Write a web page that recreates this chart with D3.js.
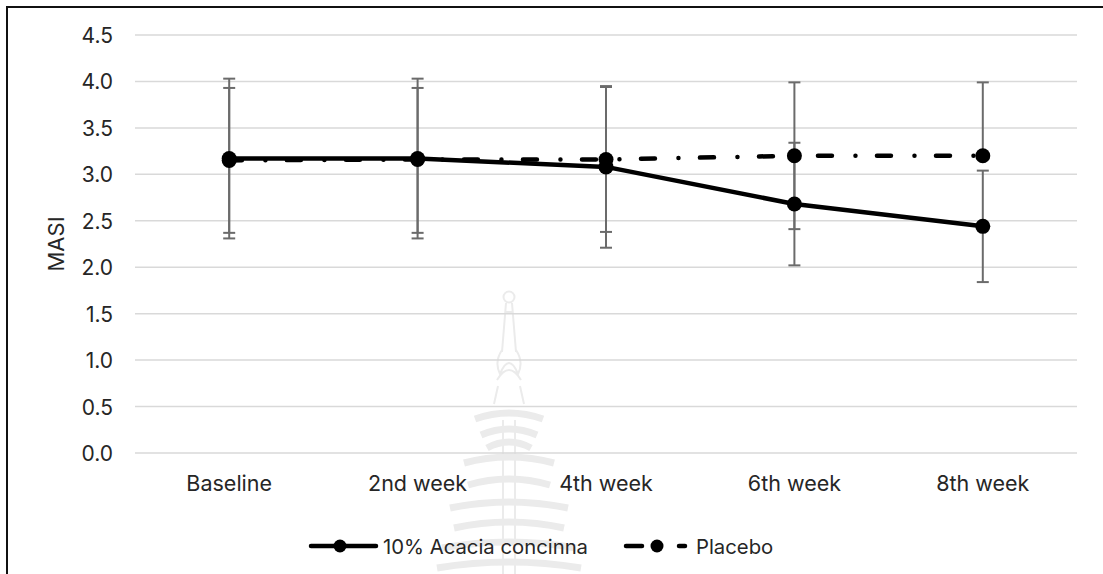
<!DOCTYPE html>
<html>
<head>
<meta charset="utf-8">
<script src="https://cdn.jsdelivr.net/npm/d3@7"></script>
<style>
    body { margin: 0; background: #fff; }
    svg { display: block; }
    text { font-family: Inter, "Open Sans", sans-serif; fill: #262626; }
</style>
</head>
<body>
<svg id="chart" width="1103" height="574"></svg>
<script>
// chart data
const weeks = ['Baseline', '2nd week', '4th week', '6th week', '8th week'];
const acaciaMean = [3.17, 3.17, 3.08, 2.68, 2.44];
const acaciaHigh = [4.03, 4.03, 3.95, 3.34, 3.04];
const acaciaLow = [2.31, 2.31, 2.21, 2.02, 1.84];
const placeboMean = [3.15, 3.16, 3.16, 3.20, 3.20];
const placeboHigh = [3.93, 3.93, 3.94, 3.99, 3.99];
const placeboLow = [2.37, 2.37, 2.38, 2.41, 3.20];
const yTicks = [0, 0.5, 1, 1.5, 2, 2.5, 3, 3.5, 4, 4.5];

const svg = d3.select('#chart');

const x = d3.scaleBand()
    .domain(weeks)
    .range([135, 1077]);

const y = d3.scaleLinear()
    .domain([0, 4.5])
    .range([453, 35]);

const cx = d => x(d) + x.bandwidth() / 2;

// outer frame (only top + left visible)
svg.append('path')
    .attr('d', 'M7,574 V7 H1103')
    .attr('fill', 'none')
    .attr('stroke', '#111')
    .attr('stroke-width', 2);

// faint watermark behind the plot
const wm = svg.append('g')
    .attr('fill', 'none')
    .attr('stroke', '#ebebeb');
wm.append('circle').attr('cx', 509).attr('cy', 297).attr('r', 5.5).attr('stroke-width', 2);
wm.append('path').attr('d', 'M506,303 L502,352 M512,303 L516,352 M506,312 H512').attr('stroke-width', 2);
wm.append('path').attr('d', 'M502,350 Q494,362 500,374 Q509,352 518,374 Q524,362 516,350 M497,380 Q509,360 521,380').attr('stroke-width', 2);
wm.append('path').attr('d', 'M498,386 L494,404 M520,386 L524,404').attr('stroke-width', 2);
const tiers = [
    [414, 34], [430, 28], [443, 22],
    [458, 45], [480, 41], [503, 59],
    [523, 55], [543, 67], [563, 72]
];
tiers.forEach(t => {
    wm.append('path')
        .attr('stroke-width', 7)
        .attr('d', `M${509 - t[1]},${t[0] + 5} Q509,${t[0] - 7} ${509 + t[1]},${t[0] + 5}`);
});
wm.append('path').attr('d', 'M503,420 V574 M515,420 V574').attr('stroke-width', 2);

// gridlines
svg.append('g')
    .selectAll('line')
    .data(yTicks)
    .join('line')
    .attr('x1', 135)
    .attr('x2', 1077)
    .attr('y1', d => y(d))
    .attr('y2', d => y(d))
    .attr('stroke', '#d9d9d9')
    .attr('stroke-width', 1.5);

// y axis
const yAxis = svg.append('g')
    .attr('transform', 'translate(113,0)')
    .call(d3.axisLeft(y).tickValues(yTicks).tickFormat(d3.format('.1f')).tickSize(0).tickPadding(0));
yAxis.select('.domain').remove();
yAxis.selectAll('text')
    .attr('dy', 7.5)
    .attr('font-size', 21)
    .attr('font-family', 'Inter, sans-serif')
    .attr('fill', '#262626');

// x axis
const xAxis = svg.append('g')
    .attr('transform', 'translate(0,491)')
    .call(d3.axisBottom(x).tickSize(0).tickPadding(0));
xAxis.select('.domain').remove();
xAxis.selectAll('text')
    .attr('y', 0)
    .attr('dy', 0)
    .attr('font-size', 21.5)
    .attr('font-family', 'Inter, sans-serif')
    .attr('fill', '#262626');

// y title
svg.append('text')
    .attr('transform', 'translate(64,244) rotate(-90)')
    .attr('text-anchor', 'middle')
    .attr('font-size', 22)
    .text('MASI');

// error bars
function drawErrors(lows, highs) {
    const g = svg.append('g')
        .attr('stroke', '#6b6b6b')
        .attr('stroke-width', 2);
    weeks.forEach((w, i) => {
        const xc = cx(w);
        g.append('line')
            .attr('x1', xc).attr('x2', xc)
            .attr('y1', y(lows[i])).attr('y2', y(highs[i]));
        [lows[i], highs[i]].forEach(v => {
            g.append('line')
                .attr('x1', xc - 6).attr('x2', xc + 6)
                .attr('y1', y(v)).attr('y2', y(v));
        });
    });
}
drawErrors(acaciaLow, acaciaHigh);
drawErrors(placeboLow, placeboHigh);

const line = d3.line()
    .x((d, i) => cx(weeks[i]))
    .y(d => y(d));

// acacia series
svg.append('path')
    .datum(acaciaMean)
    .attr('d', line)
    .attr('fill', 'none')
    .attr('stroke', '#000')
    .attr('stroke-width', 4.5)
    .attr('stroke-linejoin', 'round');

svg.append('g')
    .selectAll('circle')
    .data(acaciaMean)
    .join('circle')
    .attr('cx', (d, i) => cx(weeks[i]))
    .attr('cy', d => y(d))
    .attr('r', 7.5)
    .attr('fill', '#000');

// placebo series (long dash dot)
svg.append('path')
    .datum(placeboMean)
    .attr('d', line)
    .attr('fill', 'none')
    .attr('stroke', '#000')
    .attr('stroke-width', 4.5)
    .attr('stroke-linecap', 'round')
    .attr('stroke-dasharray', '14 23.5 0.01 21.5')
    .attr('stroke-dashoffset', 1.3);

svg.append('g')
    .selectAll('circle')
    .data(placeboMean)
    .join('circle')
    .attr('cx', (d, i) => cx(weeks[i]))
    .attr('cy', d => y(d))
    .attr('r', 7.5)
    .attr('fill', '#000');

// legend
const legY = 546;
const leg = svg.append('g');
leg.append('line')
    .attr('x1', 311).attr('x2', 376)
    .attr('y1', legY).attr('y2', legY)
    .attr('stroke', '#000').attr('stroke-width', 4.5).attr('stroke-linecap', 'round');
leg.append('circle').attr('cx', 340).attr('cy', legY).attr('r', 6.5).attr('fill', '#000');
leg.append('text')
    .attr('x', 383).attr('y', legY + 7.5)
    .attr('font-size', 20.3)
    .text('10% Acacia concinna');

leg.append('line')
    .attr('x1', 626).attr('x2', 642)
    .attr('y1', legY).attr('y2', legY)
    .attr('stroke', '#000').attr('stroke-width', 4.5).attr('stroke-linecap', 'round');
leg.append('circle').attr('cx', 657).attr('cy', legY).attr('r', 6.5).attr('fill', '#000');
leg.append('line')
    .attr('x1', 679).attr('x2', 685)
    .attr('y1', legY).attr('y2', legY)
    .attr('stroke', '#000').attr('stroke-width', 4.5).attr('stroke-linecap', 'round');
leg.append('text')
    .attr('x', 696).attr('y', legY + 7.5)
    .attr('font-size', 20.3)
    .text('Placebo');
</script>
</body>
</html>
